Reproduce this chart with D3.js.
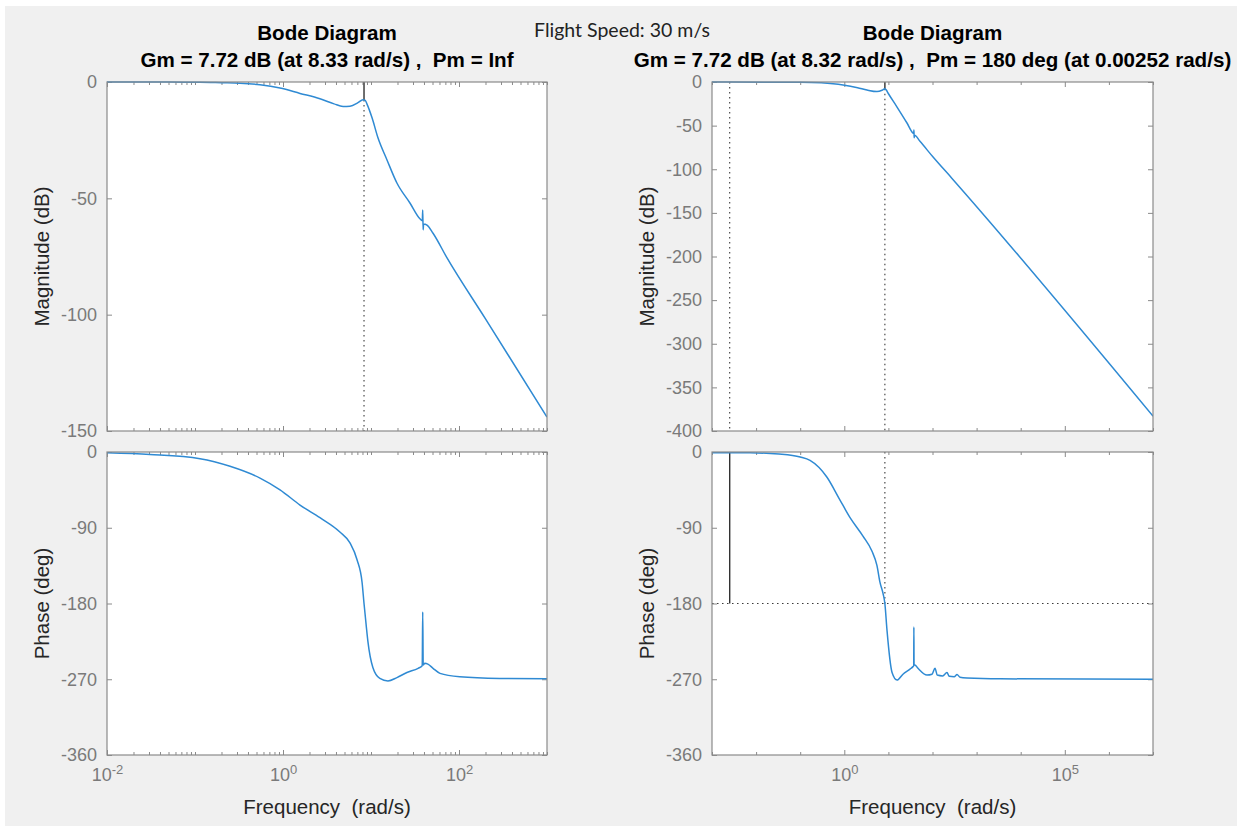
<!DOCTYPE html>
<html>
<head>
<meta charset="utf-8">
<script src="https://cdn.jsdelivr.net/npm/d3@7"></script>
<style>
  body { margin: 0; background: #fff; }
  svg { display: block; }
  text { white-space: pre; }
</style>
</head>
<body>
<svg id="chart"></svg>
<script>
// values (frequency in rad/s)
const leftMagFreq = [0.01, 0.05, 0.114, 0.2, 0.324, 0.548, 0.925, 1.56, 2.63, 3.8, 4.81, 5.77, 7.11, 8.11, 8.6, 9.01, 10.3, 12.0, 15.2, 19.7, 27.7, 36.0, 38.3, 38.7, 39.1, 39.6, 43.3, 50.7, 73.1, 200, 1000];
const leftMagDb   = [0, -0.05, -0.1, -0.3, -0.5, -1.2, -2.6, -4.9, -7.2, -9.4, -10.5, -10.4, -8.9, -7.6, -7.9, -9.5, -15.5, -24, -33.5, -43.4, -52, -58.8, -59.6, -55, -63.5, -61, -61.5, -65, -75.6, -101.8, -144];

const leftPhaseFreq = [0.01, 0.0308, 0.114, 0.25, 0.548, 0.925, 1.56, 2.63, 4.43, 5.77, 6.94, 7.92, 8.33, 8.8, 9.22, 10.5, 12.6, 15.6, 19.7, 25.6, 34.3, 38.2, 38.7, 39.2, 41, 44.3, 50.7, 60.8, 102, 292, 1000];
const leftPhaseDeg  = [-1, -3, -8, -17, -31, -45, -63, -78, -95, -108, -128, -155, -180, -205, -225, -256, -269, -272, -268, -262, -257, -254, -190, -253, -251, -252, -257, -263, -267, -269, -269.5];

const rightMagFreq = [0.001, 0.1, 0.3, 0.936, 2.0, 3.27, 5.51, 7.16, 8.32, 8.9, 9.8, 15.7, 26.4, 36.1, 37.5, 37.9, 38.4, 39.2, 52, 103, 277, 1e7];
const rightMagDb   = [0, -0.3, -1, -3.4, -6.5, -9.2, -11, -9.5, -7.72, -9, -12.6, -28.7, -47, -58.5, -59, -55, -64, -61, -68, -86, -110.5, -383];

const rightPhaseFreq = [0.001, 0.00728, 0.033, 0.1, 0.167, 0.405, 0.759, 1.35, 2.65, 4.25, 5.51, 6.45, 7.55, 8.32, 9.3, 12.1, 15.7, 21.4, 30.9, 36.1, 37.5, 37.8, 38.2, 39.8, 46.9, 75, 97.5, 114, 128, 170, 213, 240, 310, 360, 420, 605, 3400, 1e7];
const rightPhaseDeg  = [-1, -1, -2.5, -6, -10, -30, -55, -78, -100, -118, -135, -155, -168, -180, -212, -262, -271, -264, -258, -255, -254, -208, -253, -253, -257, -265, -264, -257, -265, -266, -262, -266.5, -267, -264.5, -267.5, -268.5, -269.5, -270];

// tick values
const leftXMajor = [1e-2, 1e0, 1e2];
const rightXMajor = [1e0, 1e5];
const rightXMinor = [1e-3, 1e-2, 1e-1, 1e1, 1e2, 1e3, 1e4, 1e6, 1e7];
const leftMagTicks = [0, -50, -100, -150];
const rightMagTicks = [0, -50, -100, -150, -200, -250, -300, -350, -400];
const phaseTicks = [0, -90, -180, -270, -360];

// stability margins shown in the titles
const leftTitle = ["Bode Diagram", "Gm = 7.72 dB (at 8.33 rad/s) ,  Pm = Inf"];
const rightTitle = ["Bode Diagram", "Gm = 7.72 dB (at 8.32 rad/s) ,  Pm = 180 deg (at 0.00252 rad/s)"];
const leftGm = { freq: 8.33, db: -7.72 };
const rightGm = { freq: 8.32, db: -7.72 };
const rightPm = { freq: 0.00252 };

const W = 1245, H = 829;
const font = "'Liberation Sans', Arial, Helvetica, sans-serif";
const blue = "#2f8ad3";
const axisGray = "#8a8a8a";
const tickGray = "#7a7a7a";
const labelColor = "#262626";

const magTop = 82, magBottom = 431, phTop = 452, phBottom = 755;

// minor ticks on the left log axis: 1..9 x each decade, minus the labelled ones
const leftXMinor = [];
[-2, -1, 0, 1, 2].forEach(n => {
  for (let k = 1; k <= 9; k++) {
    const v = k * Math.pow(10, n);
    if (!leftXMajor.includes(v)) leftXMinor.push(+v.toPrecision(3));
  }
});
leftXMinor.push(1000);

const zip = (a, b) => a.map((v, i) => [v, b[i]]);

const svg = d3.select("#chart").attr("width", W).attr("height", H);
svg.append("rect").attr("width", W).attr("height", H).attr("fill", "#fff");
svg.append("rect").attr("x", 5).attr("y", 6).attr("width", 1232).attr("height", 820).attr("fill", "#f0f0f0");

const panels = [
  {
    id: "l", left: 107, right: 547, xDomain: [1e-2, 1e3], magDomain: [-150, 0],
    magTicks: leftMagTicks, xMajor: leftXMajor, xMinor: leftXMinor,
    mag: zip(leftMagFreq, leftMagDb), phase: zip(leftPhaseFreq, leftPhaseDeg),
    title: leftTitle, gm: leftGm, pm: null
  },
  {
    id: "r", left: 712, right: 1153, xDomain: [1e-3, 1e7], magDomain: [-400, 0],
    magTicks: rightMagTicks, xMajor: rightXMajor, xMinor: rightXMinor,
    mag: zip(rightMagFreq, rightMagDb), phase: zip(rightPhaseFreq, rightPhaseDeg),
    title: rightTitle, gm: rightGm, pm: rightPm
  }
];

function styleAxis(a) {
  a.select(".domain").remove();
  a.selectAll("line").attr("stroke", axisGray);
  a.selectAll("text").attr("fill", tickGray).style("font-family", font).style("font-size", "18px");
  return a;
}

function drawAxes(g, x, y, yTicks, top, bottom, p, xLabels) {
  // plot area
  g.append("rect").attr("x", p.left).attr("y", top).attr("width", p.right - p.left).attr("height", bottom - top)
    .attr("fill", "#fff");

  // x ticks, bottom and top, pointing inwards
  const bot = styleAxis(g.append("g").attr("transform", `translate(0,${bottom})`)
    .call(d3.axisBottom(x).tickValues(p.xMajor).tickSize(-5).tickPadding(13).tickFormat(() => "")));
  if (xLabels) {
    bot.selectAll("text").each(function(d) {
      const t = d3.select(this);
      t.append("tspan").text("10");
      t.append("tspan").attr("dy", "-0.55em").style("font-size", "13px").text(Math.round(Math.log10(d)));
    });
  } else {
    bot.selectAll("text").remove();
  }
  styleAxis(g.append("g").attr("transform", `translate(0,${bottom})`)
    .call(d3.axisBottom(x).tickValues(p.xMinor).tickSize(-3).tickFormat(""))).selectAll("text").remove();
  styleAxis(g.append("g").attr("transform", `translate(0,${top})`)
    .call(d3.axisTop(x).tickValues(p.xMajor).tickSize(-5).tickFormat(""))).selectAll("text").remove();
  styleAxis(g.append("g").attr("transform", `translate(0,${top})`)
    .call(d3.axisTop(x).tickValues(p.xMinor).tickSize(-3).tickFormat(""))).selectAll("text").remove();

  // y ticks, left labelled (plain hyphen minus like the original) and right mirrored
  styleAxis(g.append("g").attr("transform", `translate(${p.left},0)`)
    .call(d3.axisLeft(y).tickValues(yTicks).tickSize(-5).tickPadding(10).tickFormat(d => String(d))));
  styleAxis(g.append("g").attr("transform", `translate(${p.right},0)`)
    .call(d3.axisRight(y).tickValues(yTicks).tickSize(-5).tickFormat(""))).selectAll("text").remove();
}

function drawBox(g, p, top, bottom) {
  g.append("rect").attr("x", p.left).attr("y", top).attr("width", p.right - p.left).attr("height", bottom - top)
    .attr("fill", "none").attr("stroke", axisGray).attr("stroke-width", 1.2);
}

panels.forEach(p => {
  const g = svg.append("g");
  const x = d3.scaleLog().domain(p.xDomain).range([p.left, p.right]);
  const yMag = d3.scaleLinear().domain(p.magDomain).range([magBottom, magTop]);
  const yPh = d3.scaleLinear().domain([-360, 0]).range([phBottom, phTop]);

  drawAxes(g, x, yMag, p.magTicks, magTop, magBottom, p, false);
  drawAxes(g, x, yPh, phaseTicks, phTop, phBottom, p, true);

  [["mag", magTop, magBottom], ["ph", phTop, phBottom]].forEach(([k, t, b]) => {
    svg.append("clipPath").attr("id", `clip-${p.id}-${k}`)
      .append("rect").attr("x", p.left).attr("y", t - 1).attr("width", p.right - p.left).attr("height", b - t + 2);
  });

  const dotted = sel => sel.attr("stroke", "#3a3a3a").attr("stroke-width", 1.1).attr("stroke-dasharray", "1.5,3.5");
  const solid = sel => sel.attr("stroke", "#4a4a4a").attr("stroke-width", 1.6);

  // gain margin lines
  solid(g.append("line").attr("x1", x(p.gm.freq)).attr("x2", x(p.gm.freq)).attr("y1", yMag(0)).attr("y2", yMag(p.gm.db)));
  dotted(g.append("line").attr("x1", x(p.gm.freq)).attr("x2", x(p.gm.freq)).attr("y1", yMag(p.gm.db)).attr("y2", yMag(p.magDomain[0])));

  if (p.pm) {
    dotted(g.append("line").attr("x1", x(p.pm.freq)).attr("x2", x(p.pm.freq)).attr("y1", yMag(0)).attr("y2", yMag(p.magDomain[0])));
    dotted(g.append("line").attr("x1", p.left).attr("x2", p.right).attr("y1", yPh(-180)).attr("y2", yPh(-180)));
    dotted(g.append("line").attr("x1", x(p.gm.freq)).attr("x2", x(p.gm.freq)).attr("y1", yPh(0)).attr("y2", yPh(-180)));
    g.append("line").attr("x1", x(p.pm.freq)).attr("x2", x(p.pm.freq)).attr("y1", yPh(-1)).attr("y2", yPh(-180))
      .attr("stroke", "#333").attr("stroke-width", 1.4);
  }

  const line = y => d3.line().x(d => x(d[0])).y(d => y(d[1])).curve(d3.curveMonotoneX);
  g.append("path").datum(p.mag).attr("clip-path", `url(#clip-${p.id}-mag)`)
    .attr("d", line(yMag)).attr("fill", "none").attr("stroke", blue).attr("stroke-width", 1.5);
  g.append("path").datum(p.phase).attr("clip-path", `url(#clip-${p.id}-ph)`)
    .attr("d", line(yPh)).attr("fill", "none").attr("stroke", blue).attr("stroke-width", 1.5);

  drawBox(g, p, magTop, magBottom);
  drawBox(g, p, phTop, phBottom);

  const cx = (p.left + p.right) / 2;
  g.append("text").attr("x", cx).attr("y", 40).attr("text-anchor", "middle")
    .style("font-family", font).style("font-size", "20.6px").style("font-weight", "bold").attr("fill", "#000")
    .text(p.title[0]);
  g.append("text").attr("x", cx).attr("y", 67).attr("text-anchor", "middle")
    .style("font-family", font).style("font-size", "20.6px").style("font-weight", "bold").attr("fill", "#000")
    .text(p.title[1]);

  const lx = p.left - 58;
  g.append("text").attr("transform", `translate(${lx},${(magTop + magBottom) / 2}) rotate(-90)`)
    .attr("text-anchor", "middle").style("font-family", font).style("font-size", "20.5px").attr("fill", labelColor)
    .text("Magnitude (dB)");
  g.append("text").attr("transform", `translate(${lx},${(phTop + phBottom) / 2}) rotate(-90)`)
    .attr("text-anchor", "middle").style("font-family", font).style("font-size", "20.5px").attr("fill", labelColor)
    .text("Phase (deg)");
  g.append("text").attr("x", cx).attr("y", 814).attr("text-anchor", "middle")
    .style("font-family", font).style("font-size", "20.5px").attr("fill", labelColor)
    .text("Frequency  (rad/s)");
});

svg.append("text").attr("x", 622).attr("y", 37).attr("text-anchor", "middle")
  .style("font-family", "Lato, 'Open Sans', sans-serif").style("font-size", "19.5px").attr("fill", "#222")
  .text("Flight Speed: 30 m/s");
</script>
</body>
</html>
